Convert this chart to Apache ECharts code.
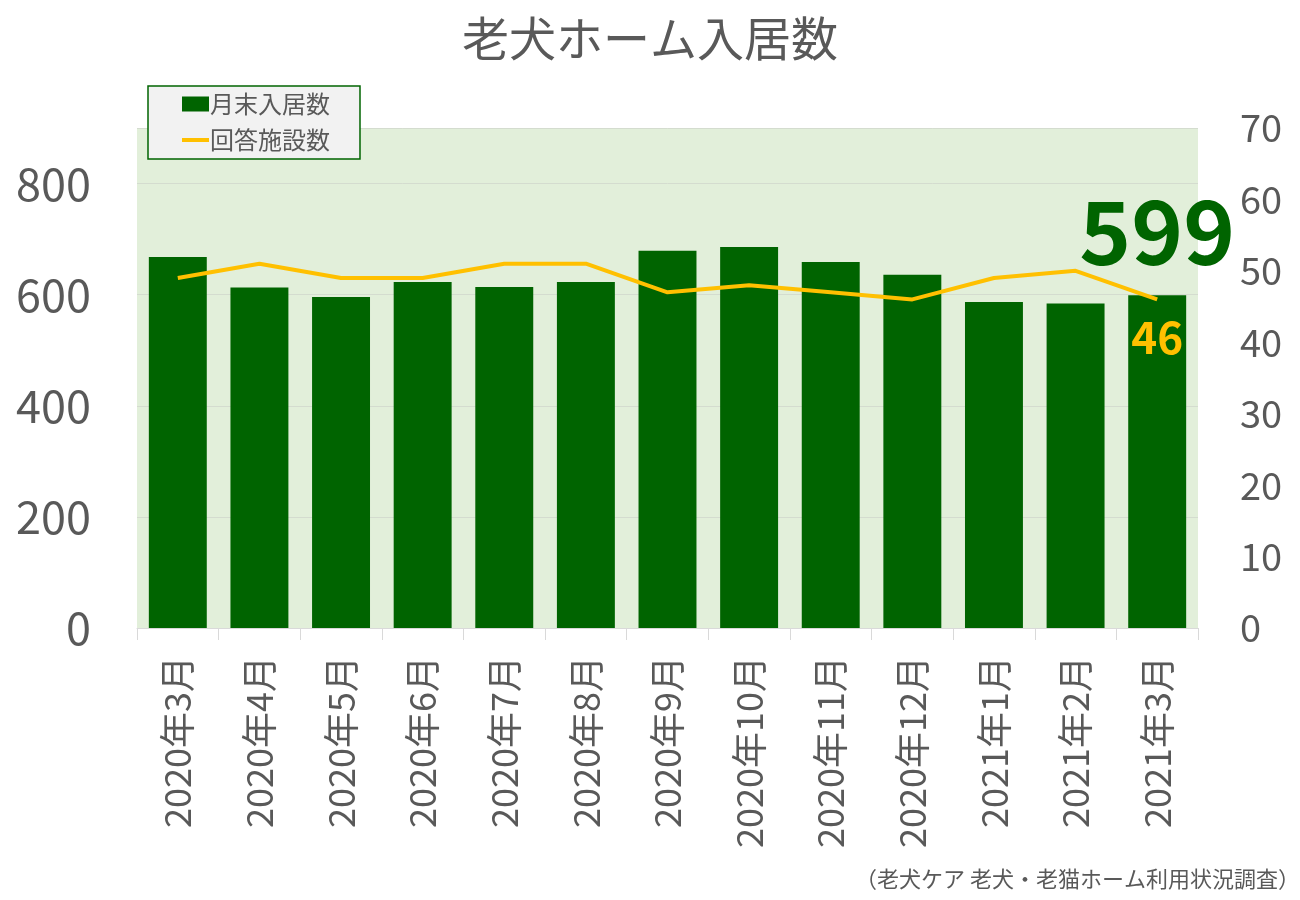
<!DOCTYPE html>
<html>
<head>
<meta charset="utf-8">
<script src="https://cdn.jsdelivr.net/npm/echarts@6/dist/echarts.min.js"></script>
<style>html,body{margin:0;padding:0;background:#fff;}#c{width:1300px;height:900px;}</style>
</head>
<body>
<div id="c"></div>
<script>
const categories = ['2020年3月','2020年4月','2020年5月','2020年6月','2020年7月','2020年8月','2020年9月','2020年10月','2020年11月','2020年12月','2021年1月','2021年2月','2021年3月'];
const residents = [668, 613, 596, 623, 614, 623, 679, 686, 659, 636, 587, 584, 599];
const facilities = [49, 51, 49, 49, 51, 51, 47, 48, 47, 46, 49, 50, 46];
const leftTicks = {min: 0, max: 900, interval: 200};
const rightTicks = {min: 0, max: 70, interval: 10};

const FONT = '"Noto Sans CJK JP", "Noto Sans", sans-serif';
const GREY = '#595959';
const chart = echarts.init(document.getElementById('c'));
const last = residents.length - 1;

chart.setOption({
  animation: false,
  textStyle: {fontFamily: FONT},
  title: {
    text: '老犬ホーム入居数',
    left: 'center', top: 10,
    textStyle: {fontSize: 47, fontWeight: 'normal', color: GREY, fontFamily: FONT}
  },
  graphic: [{
    type: 'text', right: 0, top: 868,
    style: {text: '（老犬ケア 老犬・老猫ホーム利用状況調査）', fontSize: 22, fill: GREY, fontFamily: FONT}
  }],
  legend: {
    orient: 'vertical', left: 148, top: 86,
    padding: [6, 30, 7, 34],
    backgroundColor: '#f2f2f2', borderColor: '#006400', borderWidth: 1.5,
    itemWidth: 27, itemHeight: 15, itemGap: 12,
    symbolKeepAspect: true,
    textStyle: {fontSize: 24, color: GREY, fontFamily: FONT, padding: [0,0,0,-4]},
    data: [
      {name: '月末入居数', icon: 'rect'},
      {name: '回答施設数', icon: 'path://M0,0 L27,0 L27,4 L0,4 Z', itemStyle: {color: '#FFC000'}}
    ]
  },
  grid: {
    left: 137, right: 102, top: 128, bottom: 272,
    show: true, backgroundColor: '#E2EFDA', borderWidth: 0
  },
  xAxis: {
    type: 'category', data: categories,
    axisLine: {lineStyle: {color: '#d9d9d9'}},
    axisTick: {show: true, length: 12, lineStyle: {color: '#d9d9d9'}},
    axisLabel: {rotate: 90, fontSize: 36, color: GREY, margin: 28, fontFamily: FONT}
  },
  yAxis: [{
    type: 'value', min: leftTicks.min, max: leftTicks.max, interval: leftTicks.interval,
    axisLabel: {fontSize: 45, color: GREY, margin: 46, showMaxLabel: false, fontFamily: FONT},
    axisLine: {show: false}, axisTick: {show: false},
    splitLine: {lineStyle: {color: '#d4dccf'}}
  }, {
    type: 'value', min: rightTicks.min, max: rightTicks.max, interval: rightTicks.interval,
    position: 'right',
    axisLabel: {fontSize: 38, color: GREY, margin: 42, fontFamily: FONT},
    axisLine: {show: false}, axisTick: {show: false},
    splitLine: {show: false}
  }],
  series: [{
    name: '月末入居数', type: 'bar', yAxisIndex: 0,
    barCategoryGap: '29%',
    itemStyle: {color: '#006400'},
    data: residents.map((v, i) => i === last ? {
      value: v,
      label: {show: true, position: 'top', distance: 20, fontSize: 88, fontWeight: 'bold', color: '#006400', fontFamily: FONT}
    } : v)
  }, {
    name: '回答施設数', type: 'line', yAxisIndex: 1,
    symbol: 'none', showSymbol: false,
    lineStyle: {color: '#FFC000', width: 4},
    itemStyle: {color: '#FFC000'},
    data: facilities,
    markPoint: {
      symbol: 'circle', symbolSize: 0, silent: true,
      data: [{
        coord: [last, facilities[last]], value: facilities[last],
        label: {show: true, position: 'bottom', distance: 16, fontSize: 44, fontWeight: 'bold', color: '#FFC000', fontFamily: FONT}
      }]
    }
  }]
});
</script>
</body>
</html>
